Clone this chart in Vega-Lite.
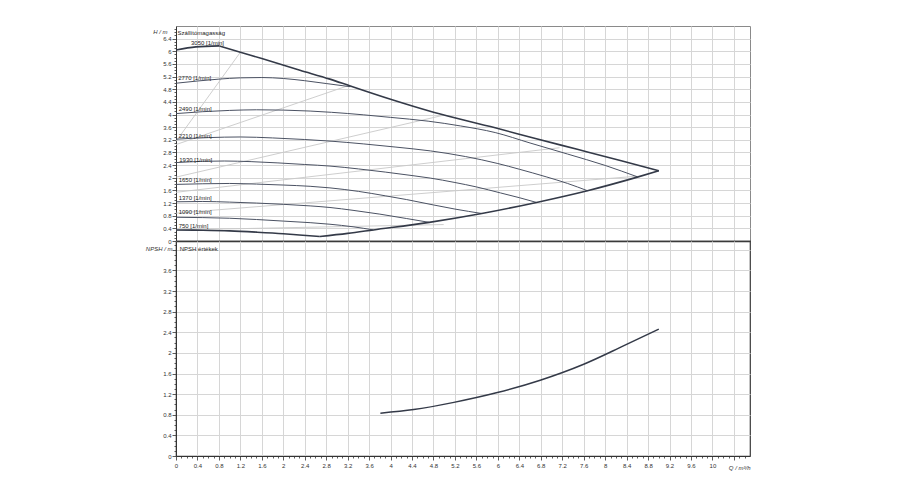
{
  "$schema": "https://vega.github.io/schema/vega-lite/v6.json",
  "background": "white",
  "padding": {"left": 144, "top": 25, "right": 5, "bottom": 5},
  "bounds": "flush",
  "spacing": 0,
  "resolve": {"scale": {"x": "independent", "y": "independent"}},
  "config": {
    "view": {"stroke": "#8a8a8a", "strokeWidth": 1},
    "axis": {
      "labelFont": "Liberation Sans", "labelFontSize": 6, "labelColor": "#333",
      "titleFont": "Liberation Sans", "titleFontSize": 6, "titleFontWeight": "normal", "titleColor": "#333", "titleFontStyle": "italic",
      "tickColor": "#333", "tickWidth": 0.8, "domainColor": "#333", "domainWidth": 1,
      "gridColor": "#d6d6d6", "gridWidth": 1, "labelOverlap": false, "labelFlush": false, "labelBound": false
    },
    "text": {"font": "Liberation Sans"}
  },
  "datasets": {
    "outline": [
      {"s": "t1", "x": 0, "h": 6.04}, {"s": "t1", "x": 0.37, "h": 6.14}, {"s": "t1", "x": 0.81, "h": 6.17},
      {"s": "t2", "x": 0.81, "h": 6.17}, {"s": "t2", "x": 1.2, "h": 5.97},
      {"s": "t2", "x": 1.6, "h": 5.77}, {"s": "t2", "x": 2.31, "h": 5.4}, {"s": "t2", "x": 2.87, "h": 5.12}, {"s": "t2", "x": 3.25, "h": 4.9},
      {"s": "t2", "x": 4.0, "h": 4.48}, {"s": "t2", "x": 4.8, "h": 4.07}, {"s": "t2", "x": 5.95, "h": 3.58}, {"s": "t2", "x": 6.7, "h": 3.24},
      {"s": "t2", "x": 7.48, "h": 2.9}, {"s": "t2", "x": 8.3, "h": 2.54}, {"s": "t2", "x": 9.0, "h": 2.22},
      {"s": "b2", "x": 9.0, "h": 2.22}, {"s": "b2", "x": 8.6, "h": 2.02},
      {"s": "b2", "x": 7.67, "h": 1.59}, {"s": "b2", "x": 6.72, "h": 1.22}, {"s": "b2", "x": 5.7, "h": 0.87}, {"s": "b2", "x": 4.72, "h": 0.59},
      {"s": "b2", "x": 3.68, "h": 0.35}, {"s": "b2", "x": 3.2, "h": 0.24}, {"s": "b2", "x": 2.68, "h": 0.14},
      {"s": "b1", "x": 2.68, "h": 0.14}, {"s": "b1", "x": 2.3, "h": 0.19},
      {"s": "b1", "x": 2.0, "h": 0.23}, {"s": "b1", "x": 1.5, "h": 0.28}, {"s": "b1", "x": 1.0, "h": 0.32}, {"s": "b1", "x": 0.5, "h": 0.34},
      {"s": "b1", "x": 0, "h": 0.35}
    ],
    "speeds": [
      {"n": "2770", "x": 0, "h": 4.99}, {"n": "2770", "x": 0.4, "h": 5.06}, {"n": "2770", "x": 0.8, "h": 5.12}, {"n": "2770", "x": 1.2, "h": 5.16},
      {"n": "2770", "x": 1.6, "h": 5.17}, {"n": "2770", "x": 2.0, "h": 5.14}, {"n": "2770", "x": 2.4, "h": 5.07}, {"n": "2770", "x": 2.8, "h": 4.98},
      {"n": "2770", "x": 3.25, "h": 4.88},
      {"n": "2490", "x": 0, "h": 4.03}, {"n": "2490", "x": 0.5, "h": 4.09}, {"n": "2490", "x": 1.0, "h": 4.13}, {"n": "2490", "x": 1.5, "h": 4.15},
      {"n": "2490", "x": 2.0, "h": 4.14}, {"n": "2490", "x": 2.5, "h": 4.11}, {"n": "2490", "x": 2.9, "h": 4.07}, {"n": "2490", "x": 3.5, "h": 3.99},
      {"n": "2490", "x": 4.0, "h": 3.91}, {"n": "2490", "x": 4.7, "h": 3.79}, {"n": "2490", "x": 5.3, "h": 3.64}, {"n": "2490", "x": 5.95, "h": 3.43},
      {"n": "2490", "x": 6.6, "h": 3.1}, {"n": "2490", "x": 7.3, "h": 2.75}, {"n": "2490", "x": 8.0, "h": 2.39}, {"n": "2490", "x": 8.6, "h": 2.03},
      {"n": "2210", "x": 0, "h": 3.22}, {"n": "2210", "x": 0.6, "h": 3.27}, {"n": "2210", "x": 1.2, "h": 3.29}, {"n": "2210", "x": 1.8, "h": 3.26},
      {"n": "2210", "x": 2.4, "h": 3.21}, {"n": "2210", "x": 2.87, "h": 3.16}, {"n": "2210", "x": 3.5, "h": 3.07}, {"n": "2210", "x": 4.1, "h": 2.97},
      {"n": "2210", "x": 4.74, "h": 2.85}, {"n": "2210", "x": 5.4, "h": 2.67}, {"n": "2210", "x": 6.0, "h": 2.45}, {"n": "2210", "x": 6.4, "h": 2.27},
      {"n": "2210", "x": 6.9, "h": 2.03}, {"n": "2210", "x": 7.3, "h": 1.82}, {"n": "2210", "x": 7.67, "h": 1.59},
      {"n": "1930", "x": 0, "h": 2.48}, {"n": "1930", "x": 0.5, "h": 2.52}, {"n": "1930", "x": 0.9, "h": 2.53}, {"n": "1930", "x": 1.4, "h": 2.51},
      {"n": "1930", "x": 1.9, "h": 2.47}, {"n": "1930", "x": 2.4, "h": 2.42}, {"n": "1930", "x": 2.87, "h": 2.37}, {"n": "1930", "x": 3.4, "h": 2.28},
      {"n": "1930", "x": 3.9, "h": 2.18}, {"n": "1930", "x": 4.4, "h": 2.07}, {"n": "1930", "x": 4.74, "h": 1.99}, {"n": "1930", "x": 5.2, "h": 1.85},
      {"n": "1930", "x": 5.6, "h": 1.71}, {"n": "1930", "x": 6.05, "h": 1.52}, {"n": "1930", "x": 6.4, "h": 1.37}, {"n": "1930", "x": 6.72, "h": 1.22},
      {"n": "1650", "x": 0, "h": 1.79}, {"n": "1650", "x": 0.5, "h": 1.81}, {"n": "1650", "x": 1.0, "h": 1.82}, {"n": "1650", "x": 1.5, "h": 1.8},
      {"n": "1650", "x": 2.0, "h": 1.77}, {"n": "1650", "x": 2.5, "h": 1.73}, {"n": "1650", "x": 2.87, "h": 1.68}, {"n": "1650", "x": 3.4, "h": 1.57},
      {"n": "1650", "x": 3.9, "h": 1.43}, {"n": "1650", "x": 4.3, "h": 1.31}, {"n": "1650", "x": 4.8, "h": 1.14}, {"n": "1650", "x": 5.2, "h": 1.01},
      {"n": "1650", "x": 5.7, "h": 0.87},
      {"n": "1370", "x": 0, "h": 1.24}, {"n": "1370", "x": 0.5, "h": 1.25}, {"n": "1370", "x": 1.0, "h": 1.23}, {"n": "1370", "x": 1.5, "h": 1.2},
      {"n": "1370", "x": 2.0, "h": 1.16}, {"n": "1370", "x": 2.5, "h": 1.11}, {"n": "1370", "x": 2.87, "h": 1.06}, {"n": "1370", "x": 3.3, "h": 0.97},
      {"n": "1370", "x": 3.8, "h": 0.85}, {"n": "1370", "x": 4.3, "h": 0.71}, {"n": "1370", "x": 4.72, "h": 0.59},
      {"n": "1090", "x": 0, "h": 0.75}, {"n": "1090", "x": 0.5, "h": 0.74}, {"n": "1090", "x": 1.0, "h": 0.72}, {"n": "1090", "x": 1.5, "h": 0.68},
      {"n": "1090", "x": 2.0, "h": 0.63}, {"n": "1090", "x": 2.5, "h": 0.58}, {"n": "1090", "x": 2.87, "h": 0.53}, {"n": "1090", "x": 3.3, "h": 0.45},
      {"n": "1090", "x": 3.68, "h": 0.35}
    ],
    "light": [
      {"k": "a", "x": 0, "h": 3.15}, {"k": "a", "x": 1.2, "h": 5.97},
      {"k": "b", "x": 0, "h": 3.05}, {"k": "b", "x": 3.22, "h": 4.92},
      {"k": "c", "x": 0, "h": 2.02}, {"k": "c", "x": 4.99, "h": 3.98},
      {"k": "d", "x": 0, "h": 1.54}, {"k": "d", "x": 7.15, "h": 2.95},
      {"k": "e", "x": 0, "h": 0.88}, {"k": "e", "x": 8.6, "h": 2.05},
      {"k": "f", "x": 0, "h": 0.35}, {"k": "f", "x": 4.99, "h": 0.52}
    ],
    "labels": [
      {"t": "Szállítómagasság", "x": 0.03, "h": 6.59},
      {"t": "3050 [1/min]", "x": 0.28, "h": 6.26},
      {"t": "2770 [1/min]", "x": 0.04, "h": 5.17},
      {"t": "2490 [1/min]", "x": 0.05, "h": 4.19},
      {"t": "2210 [1/min]", "x": 0.05, "h": 3.32},
      {"t": "1930 [1/min]", "x": 0.06, "h": 2.56},
      {"t": "1650 [1/min]", "x": 0.05, "h": 1.92},
      {"t": "1370 [1/min]", "x": 0.05, "h": 1.35},
      {"t": "1090 [1/min]", "x": 0.05, "h": 0.92},
      {"t": "750 [1/min]", "x": 0.05, "h": 0.47}
    ],
    "npsh": [
      {"x": 3.81, "v": 0.83}, {"x": 4.43, "v": 0.9}, {"x": 5.18, "v": 1.04}, {"x": 5.99, "v": 1.23},
      {"x": 6.79, "v": 1.47}, {"x": 7.6, "v": 1.78}, {"x": 8.35, "v": 2.14}, {"x": 9.0, "v": 2.46}
    ],
    "npshlabel": [
      {"t": "NPSH értékek", "x": 0.07, "v": 4.02}
    ]
  },
  "vconcat": [
    {
      "width": 574,
      "height": 215,
      "encoding": {
        "x": {
          "field": "x", "type": "quantitative",
          "scale": {"domain": [0, 10.7], "nice": false, "zero": false},
          "axis": {
            "values": [0,0.4,0.8,1.2,1.6,2,2.4,2.8,3.2,3.6,4,4.4,4.8,5.2,5.6,6,6.4,6.8,7.2,7.6,8,8.4,8.8,9.2,9.6,10,10.4],
            "labels": false, "ticks": false, "domain": true, "domainWidth": 1.6, "domainColor": "#2e2e2e", "grid": true, "title": null
          }
        },
        "y": {
          "field": "h", "type": "quantitative",
          "scale": {"domain": [0, 6.8], "nice": false, "zero": false},
          "axis": {
            "values": [0,0.1,0.2,0.3,0.4,0.5,0.6,0.7,0.8,0.9,1,1.1,1.2,1.3,1.4,1.5,1.6,1.7,1.8,1.9,2,2.1,2.2,2.3,2.4,2.5,2.6,2.7,2.8,2.9,3,3.1,3.2,3.3,3.4,3.5,3.6,3.7,3.8,3.9,4,4.1,4.2,4.3,4.4,4.5,4.6,4.7,4.8,4.9,5,5.1,5.2,5.3,5.4,5.5,5.6,5.7,5.8,5.9,6,6.1,6.2,6.3,6.4,6.5,6.6,6.7],
            "labelExpr": "round(datum.value*10)%4==0 && datum.value<6.5 ? format(datum.value,'~g') : ''",
            "tickSize": {"condition": {"test": "round(datum.value*10)%4==0", "value": 4}, "value": 2},
            "gridOpacity": {"condition": {"test": "round(datum.value*10)%4==0", "value": 1}, "value": 0},
            "labelPadding": 1,
            "title": "H / m", "titleAngle": 0, "titleAlign": "right", "titleBaseline": "middle", "titleX": -9, "titleY": 5
          }
        }
      },
      "layer": [
        {"data": {"name": "light"}, "mark": {"type": "line", "color": "#c8c8c8", "strokeWidth": 0.9}, "encoding": {"detail": {"field": "k"}}},
        {"data": {"name": "speeds"}, "mark": {"type": "line", "color": "#4b5263", "strokeWidth": 1, "interpolate": "monotone"}, "encoding": {"detail": {"field": "n"}}},
        {"data": {"name": "outline"}, "mark": {"type": "line", "color": "#343a48", "strokeWidth": 1.6, "interpolate": "monotone"}, "encoding": {"detail": {"field": "s"}}},
        {"data": {"name": "labels"}, "mark": {"type": "text", "align": "left", "baseline": "middle", "fontSize": 6, "color": "#222"}, "encoding": {"text": {"field": "t"}}}
      ]
    },
    {
      "width": 574,
      "height": 215,
      "view": {"stroke": "#3a3a3a", "strokeWidth": 1.2},
      "encoding": {
        "x": {
          "field": "x", "type": "quantitative",
          "scale": {"domain": [0, 10.7], "nice": false, "zero": false},
          "axis": {
            "values": [0,0.1,0.2,0.3,0.4,0.5,0.6,0.7,0.8,0.9,1,1.1,1.2,1.3,1.4,1.5,1.6,1.7,1.8,1.9,2,2.1,2.2,2.3,2.4,2.5,2.6,2.7,2.8,2.9,3,3.1,3.2,3.3,3.4,3.5,3.6,3.7,3.8,3.9,4,4.1,4.2,4.3,4.4,4.5,4.6,4.7,4.8,4.9,5,5.1,5.2,5.3,5.4,5.5,5.6,5.7,5.8,5.9,6,6.1,6.2,6.3,6.4,6.5,6.6,6.7,6.8,6.9,7,7.1,7.2,7.3,7.4,7.5,7.6,7.7,7.8,7.9,8,8.1,8.2,8.3,8.4,8.5,8.6,8.7,8.8,8.9,9,9.1,9.2,9.3,9.4,9.5,9.6,9.7,9.8,9.9,10,10.1,10.2,10.3,10.4,10.5,10.6],
            "labelExpr": "round(datum.value*10)%4==0 && datum.value<10.2 ? format(datum.value,'~g') : ''",
            "tickSize": {"condition": {"test": "round(datum.value*10)%4==0", "value": 4}, "value": 2},
            "gridOpacity": {"condition": {"test": "round(datum.value*10)%4==0", "value": 1}, "value": 0},
            "labelPadding": 2,
            "title": "Q / m³/h", "titleAngle": 0, "titleAlign": "right", "titleBaseline": "middle", "titleX": 574, "titleY": 11
          }
        },
        "y": {
          "field": "v", "type": "quantitative",
          "scale": {"domain": [0, 4.17], "nice": false, "zero": false},
          "axis": {
            "values": [0,0.1,0.2,0.3,0.4,0.5,0.6,0.7,0.8,0.9,1,1.1,1.2,1.3,1.4,1.5,1.6,1.7,1.8,1.9,2,2.1,2.2,2.3,2.4,2.5,2.6,2.7,2.8,2.9,3,3.1,3.2,3.3,3.4,3.5,3.6,3.7,3.8,3.9,4,4.1],
            "labelExpr": "round(datum.value*10)%4==0 && datum.value<3.9 ? format(datum.value,'~g') : ''",
            "tickSize": {"condition": {"test": "round(datum.value*10)%4==0", "value": 4}, "value": 2},
            "gridOpacity": {"condition": {"test": "round(datum.value*10)%4==0", "value": 1}, "value": 0},
            "labelPadding": 1,
            "title": "NPSH / m", "titleAngle": 0, "titleAlign": "right", "titleBaseline": "middle", "titleX": -4, "titleY": 7
          }
        }
      },
      "layer": [
        {"data": {"name": "npsh"}, "mark": {"type": "line", "color": "#343a48", "strokeWidth": 1.5, "interpolate": "monotone"}},
        {"data": {"name": "npshlabel"}, "mark": {"type": "text", "align": "left", "baseline": "middle", "fontSize": 6, "color": "#222"}, "encoding": {"text": {"field": "t"}}}
      ]
    }
  ]
}
